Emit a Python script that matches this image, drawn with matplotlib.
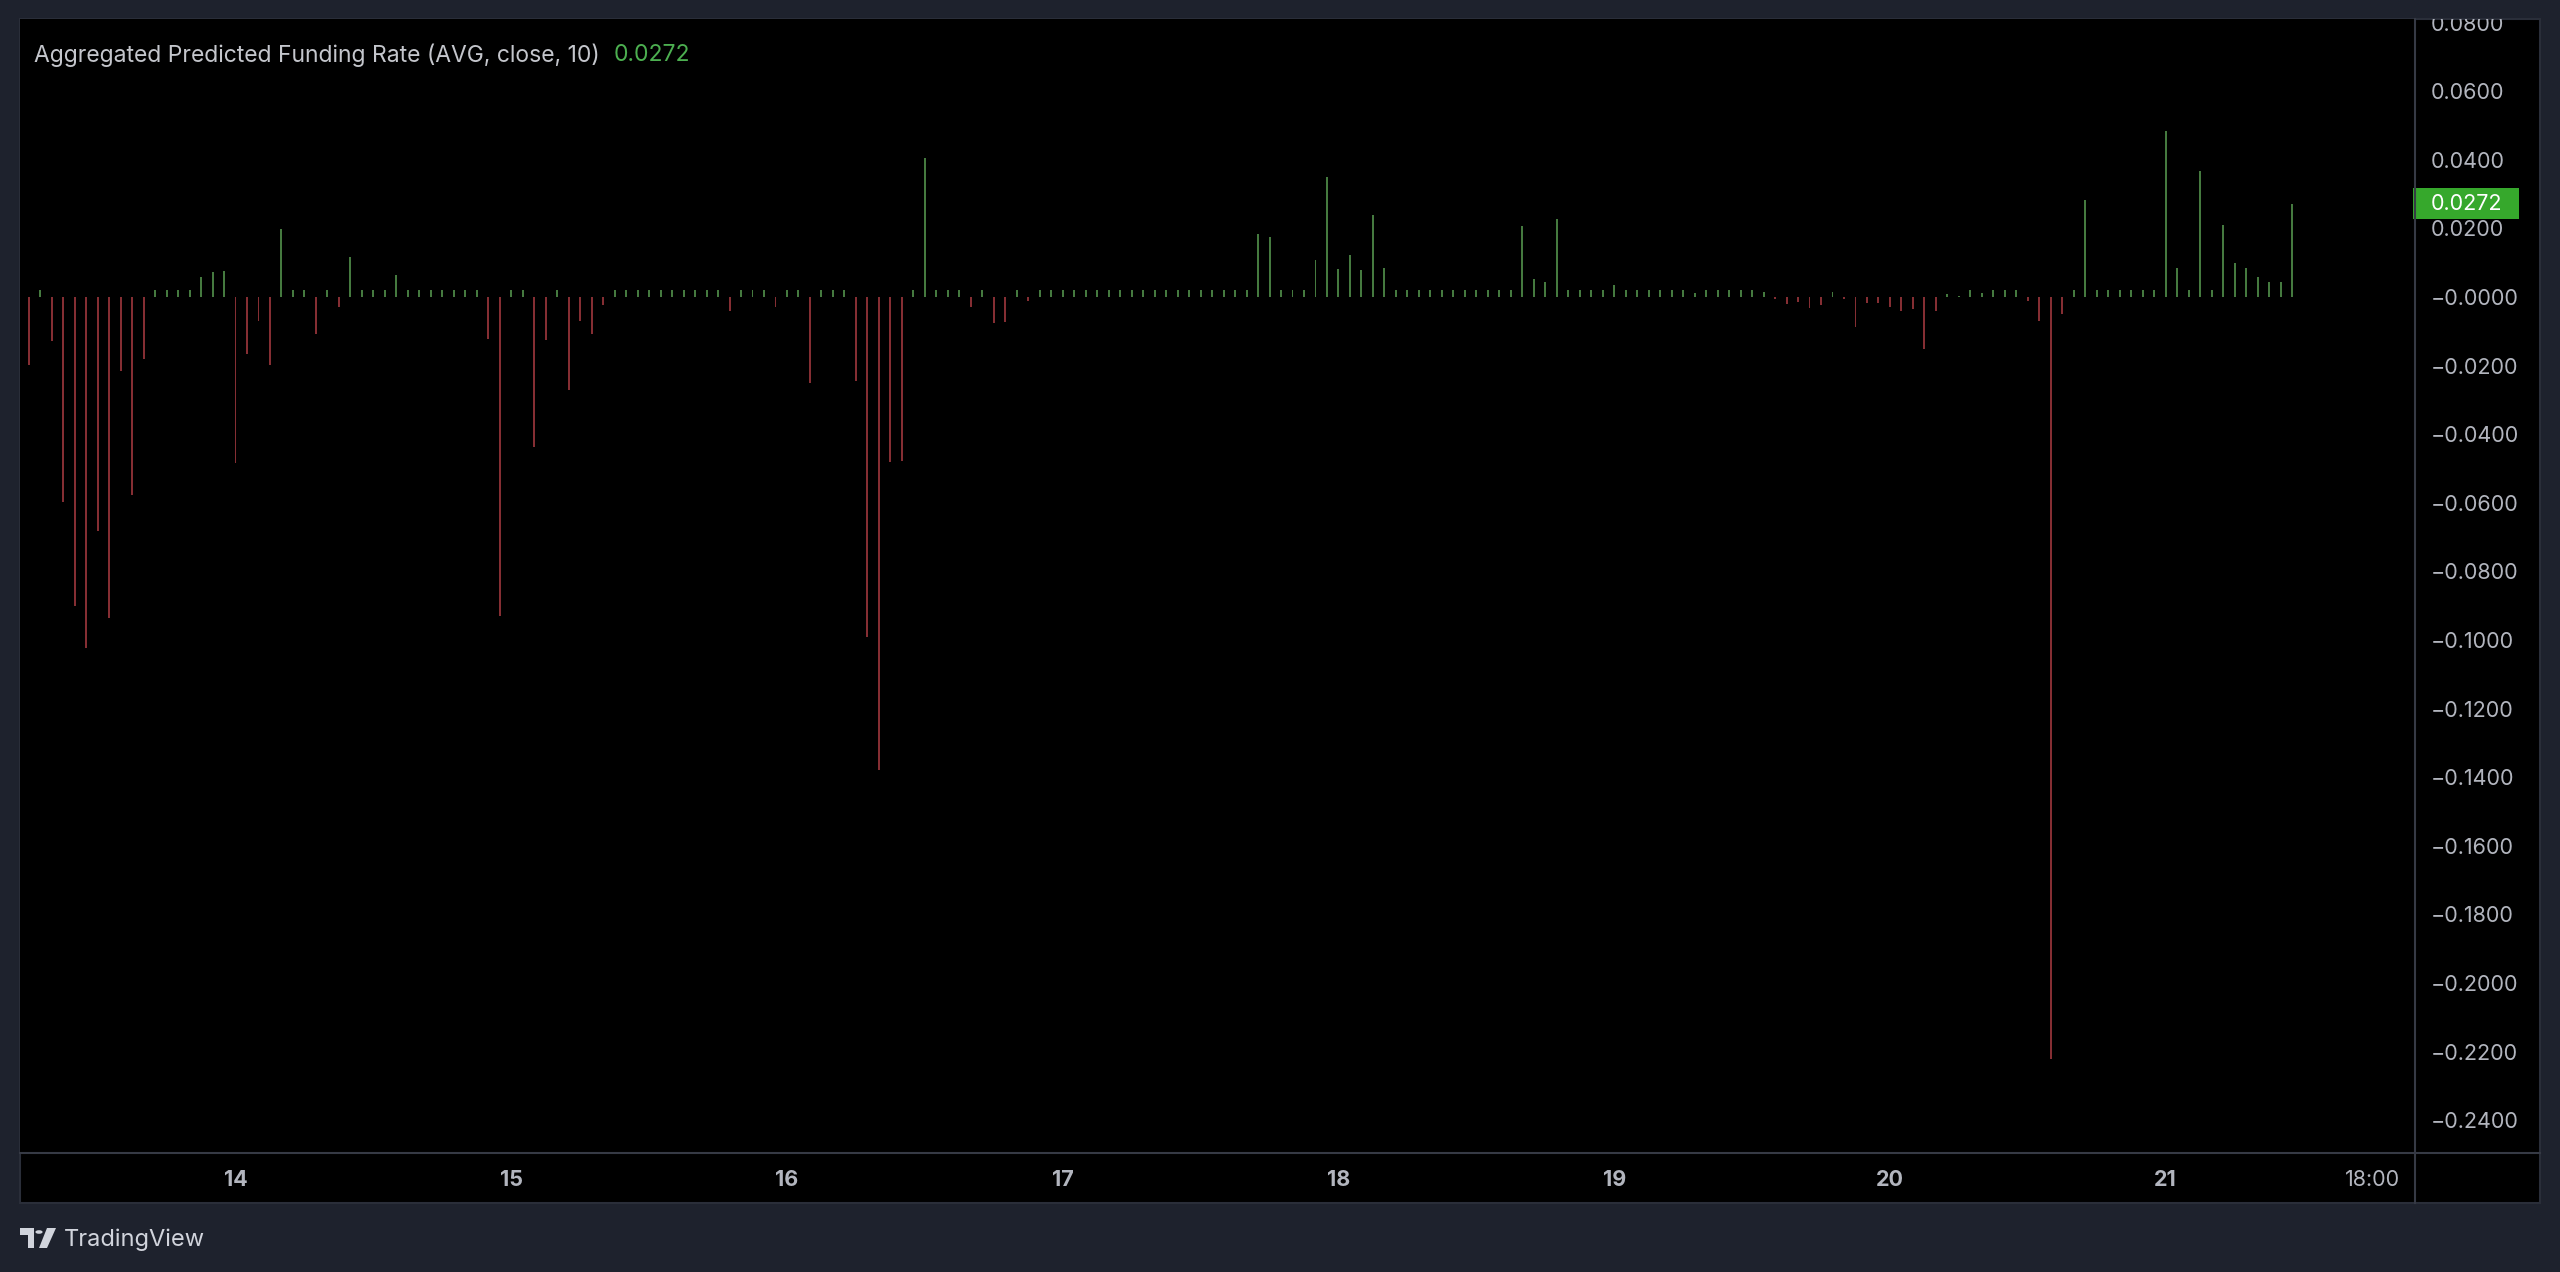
import numpy as np
import matplotlib.pyplot as plt
from matplotlib.patches import Rectangle, Polygon, Circle
from matplotlib.lines import Line2D
from matplotlib.transforms import Bbox, TransformedBbox, blended_transform_factory

plt.rcParams['font.family'] = ['Inter', 'DejaVu Sans']

# hourly predicted funding rate, one list per day
# (13th starts at 06:00, 21st ends at 11:00)
day13 = [-0.0199, 0.002, -0.0128, -0.0598, -0.0900, -0.1023, -0.0681, -0.0936, -0.0216,
         -0.0577, -0.0180, 0.002, 0.002, 0.002, 0.002, 0.0057, 0.0074, 0.0077]
day14 = [-0.0483, -0.0165, -0.0069, -0.0199, 0.0199, 0.002, 0.002, -0.0107, 0.002, -0.0028,
         0.0117, 0.002, 0.002, 0.002, 0.0064, 0.002, 0.002, 0.002, 0.002, 0.002, 0.002, 0.002,
         -0.0121, -0.0931]
day15 = [0.002, 0.002, -0.0437, -0.0126, 0.002, -0.0271, -0.0071, -0.0108, -0.0024, 0.002,
         0.002, 0.002, 0.002, 0.002, 0.002, 0.002, 0.002, 0.002, 0.002, -0.0040, 0.002, 0.002,
         0.002, -0.0029]
day16 = [0.002, 0.002, -0.0251, 0.002, 0.002, 0.002, -0.0245, -0.0990, -0.1378, -0.0480,
         -0.0478, 0.002, 0.0405, 0.002, 0.002, 0.002, -0.0029, 0.002, -0.0075, -0.0073, 0.002,
         -0.0012, 0.002, 0.002]
day17 = [0.002, 0.002, 0.002, 0.002, 0.002, 0.002, 0.002, 0.002, 0.002, 0.002, 0.002, 0.002,
         0.002, 0.002, 0.002, 0.002, 0.002, 0.0183, 0.0175, 0.002, 0.002, 0.002, 0.0109, 0.0350]
day18 = [0.0082, 0.0122, 0.0079, 0.0239, 0.0085, 0.002, 0.002, 0.002, 0.002, 0.002, 0.002,
         0.002, 0.002, 0.002, 0.002, 0.002, 0.0208, 0.0052, 0.0045, 0.0227, 0.002, 0.002, 0.002,
         0.002]
day19 = [0.0036, 0.002, 0.002, 0.002, 0.002, 0.002, 0.002, 0.0012, 0.002, 0.002, 0.002, 0.002,
         0.002, 0.0016, -0.0005, -0.0019, -0.0016, -0.0031, -0.0022, 0.0015, -0.0006, -0.0088,
         -0.0017, -0.0017]
day20 = [-0.0029, -0.0042, -0.0036, -0.0153, -0.0040, 0.0010, 0.0004, 0.002, 0.0013, 0.002,
         0.002, 0.002, -0.0013, -0.0071, -0.2222, -0.0050, 0.002, 0.0284, 0.002, 0.002, 0.002,
         0.002, 0.002, 0.002]
day21 = [0.0485, 0.0085, 0.002, 0.0368, 0.002, 0.0211, 0.0100, 0.0085, 0.0057, 0.0045, 0.0045,
         0.0272]

first_hour = 6  # hours after 13th 00:00
x_ticks = [24, 48, 72, 96, 120, 144, 168, 192, 210]
x_labels = ['14', '15', '16', '17', '18', '19', '20', '21', '18:00']
y_ticks = [0.08, 0.06, 0.04, 0.02, 0.0, -0.02, -0.04, -0.06, -0.08, -0.10, -0.12, -0.14,
           -0.16, -0.18, -0.20, -0.22, -0.24]
y_labels = ['0.0800', '0.0600', '0.0400', '0.0200', '\u22120.0000', '\u22120.0200',
            '\u22120.0400', '\u22120.0600', '\u22120.0800', '\u22120.1000', '\u22120.1200',
            '\u22120.1400', '\u22120.1600', '\u22120.1800', '\u22120.2000', '\u22120.2200',
            '\u22120.2400']

values = np.array(day13 + day14 + day15 + day16 + day17 + day18 + day19 + day20 + day21)
hours = np.arange(first_hour, first_hour + len(values))

GREEN = '#457a3f'
RED = '#852e33'
TXT = '#b2b5be'
GRID = '#363a45'

W, H = 2560, 1272
fig = plt.figure(figsize=(25.6, 12.72), dpi=100, facecolor='#1e222d')


def fx(px):
    return px / W


def fy(py):
    return 1 - py / H


# black chart panel with border
fig.patches.append(Rectangle((fx(20), fy(1203)), fx(2540) - fx(20), fy(19) - fy(1203),
                             transform=fig.transFigure, facecolor='black',
                             edgecolor='#2a2e39', lw=1.5, zorder=-1))

ax = fig.add_axes([fx(20), fy(1153), fx(2415) - fx(20), fy(19) - fy(1153)])
ax.set_facecolor('black')

colors = [GREEN if v >= 0 else RED for v in values]
ax.bar(hours, values, width=0.17, color=colors, linewidth=0)

ax.set_xlim(first_hour - 0.757, first_hour + 207.7)
ax.set_ylim(-0.24956, 0.08105)

ax.yaxis.tick_right()
ax.set_yticks(y_ticks)
ax.set_yticklabels(y_labels)
ax.tick_params(axis='y', length=0, pad=11.5, labelsize=15.5, labelcolor=TXT)
ax.set_xticks(x_ticks)
ax.set_xticklabels(x_labels)
ax.tick_params(axis='x', length=0, pad=12, labelsize=15.5, labelcolor=TXT)
for lab in ax.get_xticklabels()[:-1]:
    lab.set_fontweight('bold')
for s in ax.spines.values():
    s.set_visible(False)

# clip the price labels to the price scale panel
clip = TransformedBbox(Bbox([[fx(2415), fy(1153)], [fx(2540), fy(19)]]), fig.transFigure)
for lab in ax.get_yticklabels():
    lab.set_clip_box(clip)
    lab.set_clip_on(True)

# separators of the price and time scales
fig.lines.append(Line2D([fx(2415), fx(2415)], [fy(19), fy(1203)], transform=fig.transFigure,
                        color=GRID, lw=1.5))
fig.lines.append(Line2D([fx(20), fx(2540)], [fy(1153), fy(1153)], transform=fig.transFigure,
                        color=GRID, lw=1.5))

# last value label on the price scale
last = values[-1]
tr = blended_transform_factory(ax.transAxes, ax.transData)
ax.add_patch(Rectangle((1 - 2 / 2395, last - 0.00452), 106 / 2395, 0.00904, transform=tr,
                       facecolor='#36a82c', edgecolor='none', clip_on=False, zorder=5))
ax.text(1 + 51 / 2395, last, f'{last:.4f}', transform=tr, ha='center', va='center',
        color='white', fontsize=15.5, clip_on=False, zorder=6)

# indicator legend
fig.text(fx(34), fy(55), 'Aggregated Predicted Funding Rate (AVG, close, 10)', color='#c4c6cc',
         fontsize=16.5, va='center', ha='left')
fig.text(fx(614), fy(55), f'{last:.4f}', color='#4caf50', fontsize=16.5, va='center', ha='left')

# TradingView mark
logo = '#d1d4dc'
fig.patches.append(Polygon([(fx(20), fy(1228)), (fx(34), fy(1228)), (fx(34), fy(1248)),
                            (fx(28), fy(1248)), (fx(28), fy(1235)), (fx(20), fy(1235))],
                           closed=True, transform=fig.transFigure, facecolor=logo,
                           edgecolor='none'))
fig.patches.append(Circle((fx(39), fy(1232)), 3.6 / W, transform=fig.transFigure,
                          facecolor=logo, edgecolor='none'))
fig.patches.append(Polygon([(fx(47), fy(1228)), (fx(56), fy(1228)), (fx(47), fy(1248)),
                            (fx(39), fy(1248))],
                           closed=True, transform=fig.transFigure, facecolor=logo,
                           edgecolor='none'))
fig.text(fx(64), fy(1240), 'TradingView', color=logo, fontsize=17, va='center', ha='left')

fig.savefig('out.png', dpi=100, facecolor=fig.get_facecolor())
